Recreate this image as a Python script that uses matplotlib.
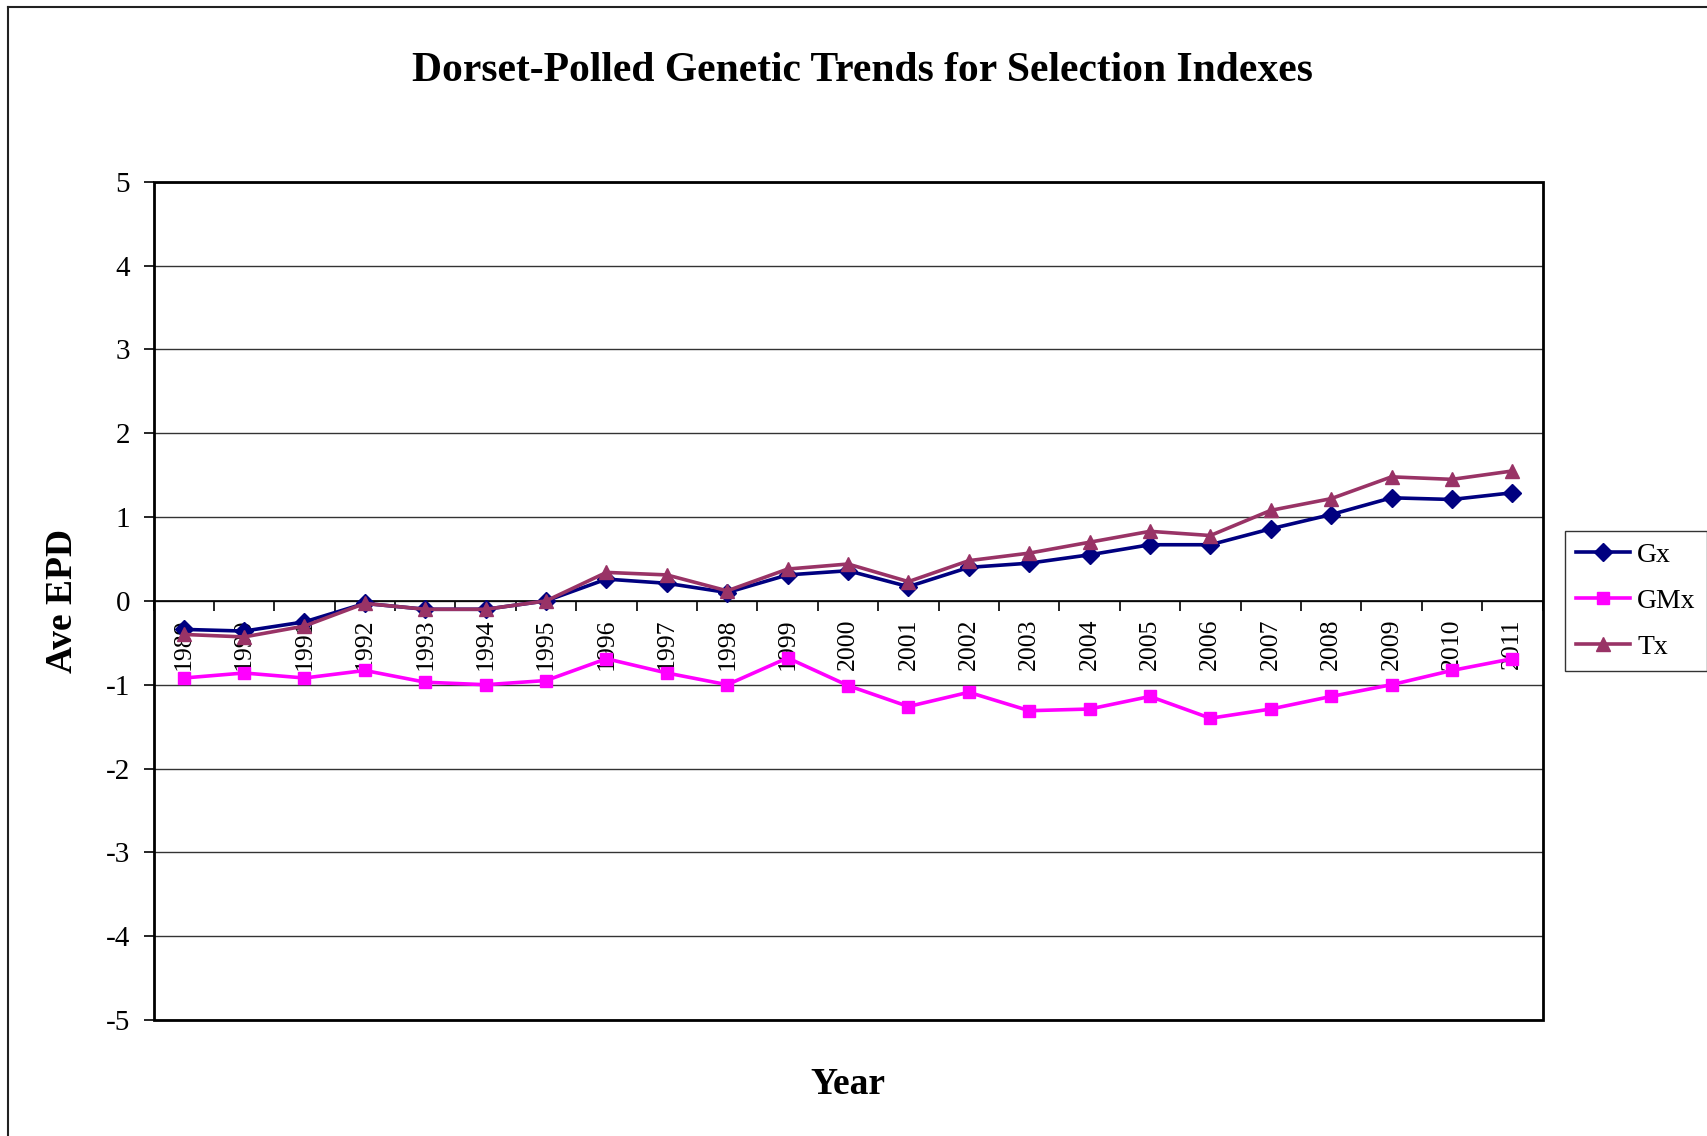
import numpy as np
import matplotlib
matplotlib.use("Agg")
import matplotlib.pyplot as plt
from matplotlib.patches import Rectangle
from matplotlib.lines import Line2D

plt.rcParams["font.family"] = ["Liberation Serif", "DejaVu Serif"]
plt.rcParams["axes.unicode_minus"] = False

years = [str(y) for y in range(1989, 2012)]
gx = [-0.34, -0.36, -0.25, -0.03, -0.10, -0.10, 0.00, 0.26, 0.21, 0.10, 0.31, 0.36,
      0.17, 0.40, 0.45, 0.55, 0.67, 0.67, 0.86, 1.03, 1.23, 1.21, 1.29]
gmx = [-0.92, -0.86, -0.92, -0.83, -0.97, -1.00, -0.95, -0.69, -0.86, -1.00, -0.68, -1.01,
       -1.26, -1.09, -1.31, -1.29, -1.14, -1.40, -1.29, -1.14, -1.00, -0.83, -0.69]
tx = [-0.40, -0.43, -0.30, -0.03, -0.10, -0.10, 0.00, 0.34, 0.31, 0.12, 0.38, 0.44,
      0.23, 0.48, 0.57, 0.70, 0.83, 0.78, 1.08, 1.22, 1.48, 1.45, 1.55]

series = [("Gx", gx, "#000080", "D", 9),
          ("GMx", gmx, "#FF00FF", "s", 9),
          ("Tx", tx, "#993366", "^", 10)]

W, H = 1707, 1136
fig = plt.figure(figsize=(W / 100, H / 100), dpi=100)
ax = fig.add_axes([153.5 / W, 1 - 1020 / H, (1542.5 - 153.5) / W, (1020 - 181.8) / H])

x = np.arange(len(years))
for name, vals, col, mk, ms in series:
    ax.plot(x, vals, color=col, lw=2.6, marker=mk, markersize=ms, label=name, zorder=3)

ax.set_xlim(-0.5, len(years) - 0.5)
ax.set_ylim(-5, 5)
ax.set_yticks(range(-5, 6))
ax.tick_params(axis="y", labelsize=21, length=7, width=1.2, direction="out", pad=10)
ax.yaxis.grid(True, color="#333333", lw=1.0)
ax.set_axisbelow(True)

# category axis crosses at zero, ticks between categories
ax.spines["bottom"].set_position(("data", 0))
ax.spines["bottom"].set_linewidth(1.2)
for s in ["top", "right", "left"]:
    ax.spines[s].set_visible(False)
ax.add_patch(Rectangle((0, 0), 1, 1, transform=ax.transAxes, fill=False,
                       edgecolor="black", lw=2, clip_on=False, zorder=4))
ax.set_xticks(np.arange(-0.5, len(years), 1.0))
ax.set_xticklabels([])
ax.set_xticks(x, minor=True)
ax.set_xticklabels(years, minor=True, rotation=90, fontsize=18.5)
ax.tick_params(axis="x", which="major", length=7, width=1.2, direction="out")
ax.tick_params(axis="x", which="minor", length=0, pad=13)
for lbl in ax.get_xticklabels(minor=True):
    lbl.set_verticalalignment("top")

fig.text(862 / W, 1 - 71 / H, "Dorset-Polled Genetic Trends for Selection Indexes",
         ha="center", va="center", fontsize=30, fontweight="bold")
fig.text(62 / W, 1 - 601 / H, "Ave EPD", rotation=90, ha="center", va="center",
         fontsize=27, fontweight="bold")
fig.text(848 / W, 1 - 1085 / H, "Year", ha="center", va="center",
         fontsize=27, fontweight="bold")

leg = fig.legend(loc="upper left", bbox_to_anchor=(1565 / W, 1 - 531 / H),
                 fontsize=20, frameon=True, fancybox=False, edgecolor="black",
                 handlelength=1.95, handletextpad=0.25, labelspacing=0.75,
                 borderpad=0.4, borderaxespad=0)
leg.get_frame().set_linewidth(1.0)

# outer chart border
fig.add_artist(Line2D([8 / W, 8 / W], [0, 1 - 7 / H], transform=fig.transFigure,
                      color="#222222", lw=1.5))
fig.add_artist(Line2D([8 / W, 1], [1 - 7 / H, 1 - 7 / H], transform=fig.transFigure,
                      color="#222222", lw=1.5))

fig.savefig("out.png", dpi=100)
